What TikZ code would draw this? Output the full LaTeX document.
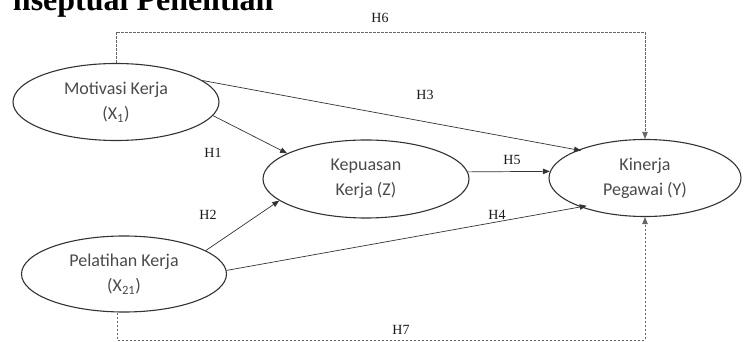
\documentclass[tikz,border=0pt]{standalone}
\usepackage{fontspec}
\setmainfont{Carlito}
\newfontfamily\serifH{Liberation Serif}
\usetikzlibrary{shapes.geometric,arrows.meta}
\definecolor{txtgray}{HTML}{4A4A4A}
\definecolor{linegray}{HTML}{333333}
\definecolor{dashgray}{HTML}{666666}
\begin{document}
\begin{tikzpicture}[x=1pt,y=-1pt,
  var/.style={ellipse,draw=linegray,line width=1.1pt,inner sep=0pt,
    text=txtgray,font=\fontsize{18}{25}\selectfont,align=center},
  hyp/.style={font=\serifH\fontsize{14}{16}\selectfont,text=black!90},
  link/.style={draw=linegray,line width=0.7pt,-{Triangle[length=7pt,width=5.5pt]}},
  dlink/.style={draw=dashgray,line width=0.8pt,dash pattern=on 2.5pt off 1.5pt,-{Triangle[length=7pt,width=5.5pt]}}]
\useasboundingbox (0,0) rectangle (745,342);
\node[anchor=base east,font=\serifH\bfseries\fontsize{32}{34}\selectfont] (title) at (277,11) {nseptual Penelitian};
\node[var,minimum width=206pt,minimum height=77pt] (mot) at (116,102) {Motivasi Kerja\\(X\textsubscript{1})};
\node[var,minimum width=206pt,minimum height=78pt] (kep) at (366,179) {Kepuasan\\Kerja (Z)};
\node[var,minimum width=192pt,minimum height=77pt] (kin) at (645,178) {Kinerja\\Pegawai (Y)};
\node[var,minimum width=205pt,minimum height=76pt] (pel) at (124,274) {Pelatihan Kerja\\(X\textsubscript{21})};
\draw[link] (mot.14) -- ([shift={(-10pt,-5pt)}]kin.149);
\draw[link] (mot.-8) -- (kep.162);
\draw[link] (pel.16) -- (kep.194);
\draw[link] (pel.2) -- ([shift={(-10pt,6pt)}]kin.215);
\draw[link] (kep.4) -- (kin.176);
\draw[dlink] (mot.north) -- (mot.north |- 0,32) -| (kin.north);
\draw[dlink] ([xshift=-7pt]pel.south) -- ([xshift=-7pt]pel.south |- 0,340) -| (kin.south);
\node[hyp] (h1) at (213,153) {H1};
\node[hyp] (h2) at (208,215) {H2};
\node[hyp] (h3) at (425,95) {H3};
\node[hyp] (h4) at (497,215) {H4};
\node[hyp] (h5) at (512,160) {H5};
\node[hyp] (h6) at (380,18) {H6};
\node[hyp] (h7) at (401,330) {H7};
\end{tikzpicture}
\end{document}
